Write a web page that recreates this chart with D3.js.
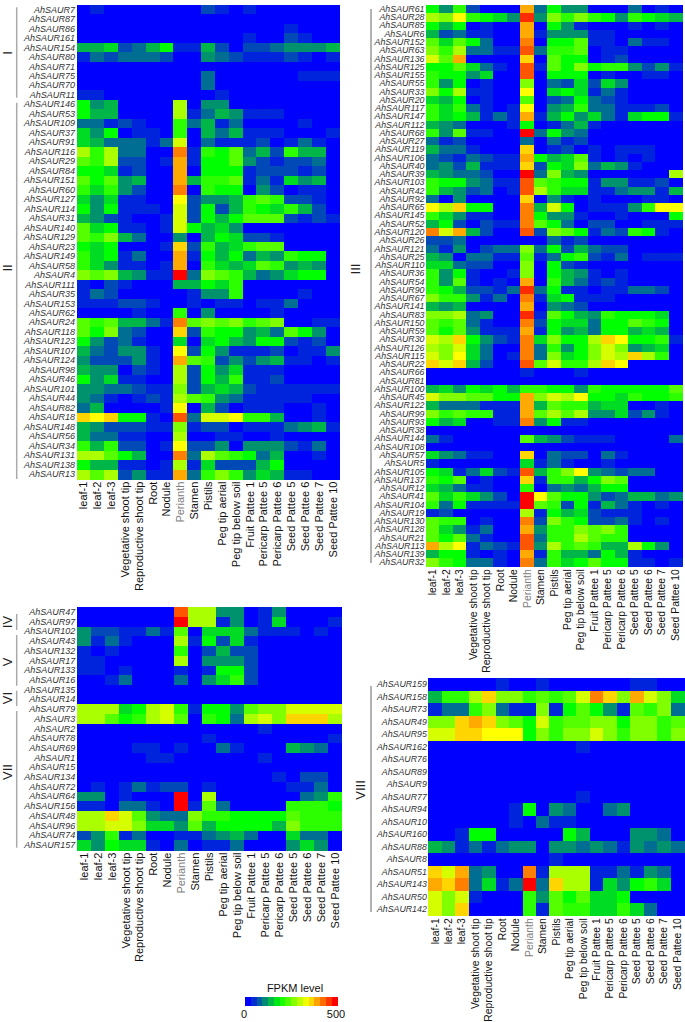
<!DOCTYPE html>
<html><head><meta charset="utf-8">
<script src="https://cdn.jsdelivr.net/npm/d3@7/dist/d3.min.js"></script>
<style>html,body{margin:0;padding:0;background:#fff}svg{display:block}text{font-family:"Liberation Sans",Arial,sans-serif}</style>
</head><body><svg id="c" width="685" height="1022"></svg>
<script>
const tissues=["leaf-1","leaf-2","leaf-3","Vegetative shoot tip","Reproductive shoot tip","Root","Nodule","Perianth","Stamen","Pistils","Peg tip aerial","Peg tip below soil","Fruit Pattee 1","Pericarp Pattee 5","Pericarp Pattee 6","Seed Pattee 5","Seed Pattee 6","Seed Pattee 7","Seed Pattee 10"];
const fpkmBinWidth=25;
const legendTicks=["0","500"];
const legendTitle="FPKM level";

const genesA=[7,87,86,161,154,80,71,75,70,11,146,53,109,37,91,116,29,84,151,60,127,114,31,140,129,23,149,58,4,111,35,153,62,24,118,123,107,124,98,46,101,44,82,18,148,56,34,131,138,13];
const binsA=[
[0,1,0,0,0,0,0,0,0,2,1,0,1,0,0,0,0,0,0],
[0,0,0,0,0,0,0,0,0,0,0,0,0,0,0,0,0,0,0],
[0,0,0,0,0,0,0,0,0,0,0,0,0,0,0,1,0,0,0],
[0,0,0,0,0,0,0,0,0,0,0,0,1,0,0,2,1,0,0],
[5,5,6,2,3,5,7,1,1,5,2,0,2,2,3,4,4,4,5],
[1,3,2,3,3,3,2,0,0,4,3,2,1,1,1,2,1,0,1],
[0,0,0,0,0,0,0,0,0,0,0,0,0,0,0,0,0,0,0],
[0,0,0,0,0,0,0,0,0,3,0,0,0,0,0,0,1,1,1],
[0,0,0,0,0,0,0,0,0,3,0,0,0,0,0,0,0,0,0],
[1,1,0,0,0,0,0,0,0,0,1,0,0,0,0,0,0,0,0],
[7,4,5,0,0,0,0,11,0,4,4,0,0,0,0,0,0,0,0],
[7,5,5,0,0,0,0,11,1,3,5,4,1,1,1,0,0,0,0],
[3,3,1,2,1,0,0,8,3,5,1,3,0,0,0,0,1,0,0],
[6,4,7,0,1,1,0,8,0,5,3,5,1,1,1,0,0,0,1],
[6,5,3,3,3,1,3,12,0,3,1,1,1,2,0,1,3,1,0],
[11,8,11,3,3,0,0,16,1,8,7,9,3,5,2,8,5,5,0],
[9,8,11,2,2,0,1,15,1,7,7,9,4,2,1,2,2,3,0],
[7,7,6,1,2,0,0,15,0,7,7,7,1,2,2,2,1,2,0],
[9,7,9,4,5,0,0,15,5,8,8,9,1,3,1,6,4,5,0],
[8,6,8,4,2,0,0,16,0,8,7,7,0,4,2,0,1,1,0],
[6,4,6,1,1,0,0,13,2,4,4,5,8,9,8,2,2,1,0],
[7,4,7,1,1,1,0,12,2,7,2,5,8,7,6,8,5,2,0],
[5,4,2,1,0,0,1,12,2,7,5,7,9,9,9,2,1,2,1],
[9,6,7,1,1,0,1,12,7,5,6,4,0,0,0,0,0,0,0],
[9,8,10,5,3,0,0,4,0,5,7,6,2,2,1,0,0,0,0],
[7,6,7,0,0,0,1,14,2,8,5,6,8,9,9,0,0,0,0],
[8,6,7,1,3,0,0,15,1,7,5,7,3,5,4,8,7,7,0],
[8,6,4,1,1,0,1,15,0,8,6,5,6,9,8,4,5,4,0],
[10,9,10,5,4,1,1,19,3,10,9,8,5,3,4,6,7,7,0],
[1,0,2,1,0,0,0,5,5,7,6,8,0,0,0,0,0,0,0],
[1,3,2,0,0,0,0,0,1,4,4,8,0,0,0,0,1,0,0],
[1,1,1,2,2,1,0,0,1,0,1,1,0,1,1,3,0,0,0],
[0,0,0,0,1,0,0,8,0,4,0,0,0,0,1,0,0,0,0],
[9,8,9,5,5,3,1,16,9,10,9,10,8,9,10,0,0,1,1],
[9,7,10,3,2,0,0,14,2,8,7,7,4,5,3,9,7,4,0],
[7,4,2,3,1,0,0,6,0,6,7,5,4,7,7,2,1,2,0],
[5,3,2,4,4,1,0,13,2,7,4,1,1,1,2,0,1,1,4],
[4,2,2,2,4,1,0,15,9,8,2,4,2,4,5,1,1,0,1],
[5,4,4,0,2,1,0,11,2,7,4,6,1,1,1,0,0,0,0],
[7,4,6,1,1,0,0,11,2,7,5,8,1,1,2,0,0,0,0],
[4,4,3,3,2,1,1,10,2,5,6,5,2,1,1,1,1,1,1],
[4,3,1,0,1,2,1,11,9,8,4,3,1,1,1,1,1,0,0],
[3,5,0,0,0,0,1,13,0,5,2,0,1,1,1,0,0,1,0],
[14,13,14,7,7,1,0,17,3,12,12,13,8,8,5,0,0,1,0],
[5,4,2,2,2,1,1,10,1,2,2,0,1,1,1,3,4,5,1],
[5,3,3,1,1,0,0,11,0,0,1,1,0,0,1,0,0,0,0],
[8,5,8,2,2,0,1,13,2,2,4,0,4,4,4,2,1,3,0],
[11,11,9,7,5,0,0,16,3,11,9,8,7,3,5,0,0,1,0],
[7,5,5,1,1,0,1,11,1,6,2,2,2,5,7,0,0,0,0],
[11,9,11,2,4,1,1,15,3,8,10,8,4,6,5,1,1,0,0]];

const genesB=[61,28,85,6,152,63,136,125,155,55,33,20,117,147,112,68,27,119,106,40,39,103,42,92,65,145,52,120,26,121,25,110,36,54,90,67,141,83,150,59,30,126,115,22,66,81,100,45,122,99,93,38,144,108,57,5,105,137,12,41,104,19,130,128,21,113,139,32];
const binsB=[
[7,4,8,2,0,0,0,15,3,7,4,4,0,0,0,3,0,1,0],
[11,10,13,8,7,6,4,18,4,10,8,10,8,7,4,8,7,6,5],
[7,5,7,0,1,0,0,15,0,7,4,1,0,0,0,1,0,1,0],
[5,2,3,1,1,0,0,15,1,4,4,4,1,1,0,0,0,0,0],
[9,6,9,7,3,0,0,16,0,7,7,9,1,1,0,3,1,1,0],
[10,8,11,3,3,1,1,17,3,8,8,9,0,1,1,0,0,0,0],
[12,9,15,0,0,0,0,14,0,9,7,7,0,1,2,0,0,0,0],
[7,7,9,6,3,1,0,17,1,9,7,10,7,8,8,4,2,4,1],
[8,7,7,4,6,0,0,17,0,7,7,7,0,1,0,0,1,1,0],
[8,4,7,0,1,0,0,10,0,3,2,6,2,6,4,0,0,0,0],
[10,7,11,1,1,0,0,13,0,6,7,6,1,3,1,0,0,0,0],
[6,5,7,0,1,0,0,9,0,2,3,7,3,2,1,0,0,0,0],
[8,6,8,3,1,0,1,13,0,4,5,8,3,3,1,1,1,2,0],
[8,6,7,5,1,3,1,15,1,5,7,4,6,3,1,6,7,7,1],
[5,4,3,0,0,0,1,7,0,1,3,5,1,0,0,0,0,0,0],
[8,4,9,1,1,0,0,19,3,7,4,3,0,0,0,0,0,0,0],
[3,1,2,0,0,0,0,3,0,3,1,2,0,0,0,0,0,0,0],
[5,3,3,1,0,0,0,14,0,1,2,0,1,0,1,1,1,0,0],
[3,2,1,3,2,1,1,15,7,5,6,9,1,0,1,0,1,0,0],
[3,4,2,5,1,1,1,14,2,7,6,10,3,5,4,1,0,0,0],
[5,4,3,3,2,0,0,19,3,10,5,4,0,0,0,0,0,0,11],
[8,7,7,4,3,1,1,17,9,8,7,7,1,4,4,1,1,2,0],
[8,5,4,2,3,0,1,17,11,8,6,6,1,1,3,4,4,1,5],
[3,0,4,0,0,0,0,14,0,4,1,0,1,0,0,0,1,1,0],
[13,11,14,7,7,0,0,16,5,12,7,0,1,1,1,4,8,13,13],
[8,6,4,1,1,0,0,16,7,4,4,1,0,0,1,0,0,0,7],
[5,7,2,0,2,1,1,16,9,7,3,0,2,2,0,0,1,1,1],
[16,12,15,5,2,0,0,17,2,10,9,7,1,3,2,8,7,1,0],
[2,2,3,0,0,0,0,0,0,3,1,2,0,0,0,0,0,0,0],
[3,1,4,0,2,3,3,10,3,7,2,5,3,2,2,0,0,0,0],
[5,4,0,3,3,1,1,9,1,3,7,8,2,1,3,0,1,1,1],
[6,6,3,2,2,0,0,10,0,7,2,1,0,0,0,0,0,0,0],
[8,4,7,1,0,0,1,10,0,7,5,4,1,0,1,0,0,0,0],
[8,4,9,1,0,1,0,15,0,8,5,3,1,2,1,0,0,0,0],
[8,7,5,2,2,1,3,18,3,7,1,1,0,1,1,3,3,2,0],
[10,8,8,4,1,3,0,16,1,6,7,1,1,1,0,0,0,0,0],
[5,4,5,0,0,0,0,15,0,4,3,2,0,0,0,0,0,0,0],
[10,10,11,3,4,0,0,18,1,9,7,5,4,8,7,7,7,6,0],
[9,8,9,3,1,0,0,16,2,7,6,6,3,7,7,9,8,7,0],
[9,7,9,4,1,1,1,15,1,7,4,5,3,7,7,5,6,5,0],
[12,11,14,7,4,2,1,16,6,10,7,7,11,14,13,7,7,8,1],
[11,10,12,6,3,0,0,16,3,8,4,7,10,12,10,4,5,6,0],
[12,10,13,6,3,0,1,16,3,10,6,7,10,12,11,14,11,8,0],
[14,12,14,5,2,0,0,17,9,12,8,8,11,14,13,0,0,0,0],
[0,0,0,0,0,0,0,1,0,0,0,1,0,0,0,0,0,0,0],
[0,0,0,0,0,0,0,0,0,0,0,0,0,0,0,0,0,0,0],
[5,6,4,7,6,7,5,8,8,7,7,4,8,7,7,7,7,7,9],
[12,10,10,9,9,7,7,15,10,12,11,13,7,7,6,8,7,7,8],
[5,3,3,3,1,1,1,15,5,9,8,8,5,6,6,0,0,1,0],
[10,8,9,8,8,1,1,15,9,11,9,11,4,4,6,2,4,1,0],
[7,5,6,0,0,1,1,16,4,7,1,1,0,0,0,0,0,0,0],
[0,0,0,0,0,0,0,0,0,0,0,0,0,0,0,0,0,0,0],
[3,1,0,0,0,0,0,9,5,4,2,1,1,1,0,0,0,0,3],
[0,0,0,0,0,0,0,0,0,0,0,0,0,0,0,0,0,0,0],
[6,4,3,1,1,0,0,14,0,3,2,2,0,3,1,0,0,0,0],
[1,0,0,0,0,0,0,6,1,3,1,0,0,1,0,0,0,0,0],
[7,6,1,3,6,2,1,17,5,8,10,13,4,3,2,3,3,0,0],
[8,7,9,0,1,0,0,14,1,8,8,5,7,10,9,0,0,0,0],
[6,5,3,1,1,0,0,8,0,3,4,3,5,7,7,0,0,0,0],
[9,6,8,6,4,2,0,19,13,9,7,7,4,2,3,5,5,3,4],
[8,3,7,1,1,1,1,19,9,8,2,7,1,5,3,1,0,1,0],
[1,2,0,0,0,0,0,11,1,7,5,6,2,1,1,1,0,0,0],
[9,8,8,0,1,0,0,16,2,10,8,7,2,2,3,1,0,1,0],
[9,6,4,1,3,0,0,15,4,8,8,10,9,10,8,0,0,0,0],
[9,7,9,3,1,0,0,17,3,8,8,11,9,8,8,0,0,0,0],
[15,11,13,1,3,2,1,17,4,11,8,9,8,5,5,11,7,4,0],
[5,7,7,1,0,1,0,15,1,8,5,5,3,7,5,1,0,0,0],
[10,8,7,3,3,1,0,16,3,8,6,7,9,7,7,1,1,0,1]];

const genesC=[47,97,102,43,132,17,133,16,135,14,79,3,2,78,69,1,15,134,72,64,156,48,96,74,157];
const binsC=[
[0,0,0,0,0,0,0,17,11,11,4,4,0,1,4,0,0,0,0],
[0,0,0,0,0,0,0,19,11,11,1,4,0,1,6,0,0,0,1],
[4,2,2,1,1,3,1,9,0,6,6,6,3,1,1,1,0,1,0],
[4,1,3,1,0,0,0,11,1,7,2,6,1,0,0,0,0,0,0],
[1,0,1,0,0,0,0,8,0,2,5,2,2,0,0,0,0,0,0],
[1,1,0,0,0,0,0,11,0,4,4,4,2,0,0,0,0,0,0],
[1,1,0,1,0,0,0,1,0,1,7,7,2,0,0,0,0,0,0],
[0,0,1,3,0,0,0,3,0,4,6,8,2,0,0,0,0,0,0],
[0,0,0,0,0,0,0,0,0,0,0,0,0,0,0,0,0,0,0],
[0,0,0,0,0,0,0,0,0,0,0,0,0,0,0,0,0,0,0],
[11,11,11,6,7,11,12,8,1,7,7,4,9,10,10,12,12,12,12],
[11,11,9,7,8,11,12,9,0,8,7,3,11,12,10,14,14,14,11],
[0,0,0,0,0,0,0,0,0,0,0,0,0,1,0,0,0,0,0],
[0,0,0,0,0,0,0,0,0,1,0,0,0,0,0,0,0,0,1],
[0,0,0,0,1,1,0,1,0,0,3,1,0,0,0,5,4,3,0],
[0,0,0,0,0,1,1,0,0,0,0,0,0,1,0,0,0,0,0],
[0,0,0,0,0,0,0,0,0,0,0,0,0,0,0,0,0,0,0],
[0,0,0,0,0,0,0,0,0,0,0,0,0,0,1,0,2,2,0],
[0,1,0,1,3,1,2,2,0,1,0,0,0,0,0,1,1,3,0],
[4,4,0,1,0,0,0,19,0,11,0,0,0,0,0,0,3,4,8],
[1,1,0,3,3,1,0,19,1,9,3,0,0,0,0,8,8,8,7],
[11,11,14,12,9,4,3,3,10,8,8,7,7,7,7,9,8,8,8],
[11,11,12,12,10,6,6,4,9,5,7,7,7,7,5,10,8,8,8],
[2,4,8,1,3,0,0,1,1,3,4,5,3,0,0,6,3,3,0],
[6,4,7,6,6,1,0,3,0,1,1,3,0,0,0,4,6,4,0]];

const genesD=[159,158,73,49,95,162,76,89,9,77,94,10,160,88,8,51,143,50,142];
const binsD=[
[0,0,0,0,0,1,0,0,1,0,0,0,0,0,0,1,1,0,0],
[5,8,8,11,14,10,10,8,9,8,9,12,16,14,10,15,12,10,6],
[1,3,3,8,10,3,1,1,10,1,7,9,7,4,1,9,8,10,3],
[10,10,14,15,14,10,9,7,12,8,9,9,10,10,7,10,10,8,9],
[12,12,14,14,13,13,13,7,10,8,10,10,12,10,8,10,10,8,10],
[0,0,0,0,0,0,0,0,0,0,0,1,0,0,0,0,0,0,0],
[0,0,0,0,0,0,0,0,0,0,0,0,0,0,0,0,0,0,0],
[0,0,0,0,0,0,0,0,0,0,0,0,0,0,0,0,0,0,0],
[0,0,0,0,0,0,0,0,0,0,0,0,0,0,0,0,0,0,0],
[0,0,0,0,0,0,0,0,0,0,0,1,0,0,0,0,0,0,0],
[0,0,0,0,0,0,1,7,0,4,3,0,0,3,4,0,0,0,0],
[0,0,0,0,0,0,1,0,3,1,1,0,0,0,0,0,0,0,0],
[0,0,1,7,7,0,0,0,0,0,7,5,0,0,0,4,4,3,0],
[5,4,1,3,1,3,4,4,0,4,4,3,4,3,1,4,3,4,3],
[0,0,0,0,0,0,0,0,0,1,0,0,0,0,0,0,0,0,0],
[14,12,15,3,4,0,0,16,1,11,11,11,1,1,3,1,4,3,0],
[15,14,16,3,6,1,3,19,3,14,11,11,1,6,4,7,8,6,0],
[12,10,12,1,0,0,0,8,4,9,7,9,6,6,7,0,0,0,0],
[12,10,14,0,0,0,0,8,1,9,8,8,6,6,8,6,3,0,0]];

// colour scale on FPKM: blue → green → yellow → red
const color=d3.scaleLinear().domain([0,175,325,475]).range(["#0000ff","#00ff00","#ffff00","#ff0000"]).clamp(true);

const panels=[
 {genes:genesA,bins:binsA,x:[76.5,339.5],y:[5,479],gs:9,ts:11},
 {genes:genesB,bins:binsB,x:[426,682],y:[5,566.7],gs:8.8,ts:10.4},
 {genes:genesC,bins:binsC,x:[76.7,341.7],y:[607.3,850],gs:9,ts:11},
 {genes:genesD,bins:binsD,x:[428.3,684],y:[678.3,915.7],gs:8.8,ts:10.4}
];
const brackets=[
 {x:16.7,y:[7.3,97.7],c:"#aaa",w:1.5},{x:16.7,y:[102.7,479],c:"#aaa",w:1.5},
 {x:371,y:[9,563],c:"#666",w:1},{x:371,y:[686,912],c:"#666",w:1},
 {x:16.7,y:[614,630],c:"#aaa",w:1.5},{x:16.7,y:[635,685.7],c:"#aaa",w:1.5},
 {x:16.7,y:[690.7,706],c:"#aaa",w:1.5},{x:16.7,y:[711,847.7],c:"#aaa",w:1.5}
];
const groupLabels=[
 {t:"I",x:7.5,y:53,s:13},{t:"II",x:7.5,y:268,s:13},{t:"III",x:355,y:269,s:13},
 {t:"IV",x:7.5,y:622,s:13},{t:"V",x:7.5,y:662,s:13},{t:"VI",x:7.5,y:698,s:13},{t:"VII",x:7.5,y:772,s:13},
 {t:"VIII",x:360,y:790,s:13}
];

const svg=d3.select("#c");
panels.forEach(p=>{
  const names=p.genes.map(g=>"AhSAUR"+g);
  const x=d3.scaleBand().domain(tissues).range(p.x);
  const y=d3.scaleBand().domain(names).range(p.y);
  const g=svg.append("g");
  const cells=p.bins.flatMap((row,r)=>row.map((b,c)=>({gene:names[r],tissue:tissues[c],fpkm:b*fpkmBinWidth})));
  g.selectAll("rect").data(cells).join("rect")
    .attr("x",d=>x(d.tissue)).attr("y",d=>y(d.gene))
    .attr("width",x.bandwidth()+0.5).attr("height",y.bandwidth()+0.5)
    .attr("fill",d=>color(d.fpkm)).attr("shape-rendering","crispEdges");
  const ay=g.append("g").attr("transform",`translate(${p.x[0]},0)`)
    .call(d3.axisLeft(y).tickSize(0).tickPadding(1.5));
  ay.select(".domain").remove();
  ay.selectAll("text").attr("font-size",p.gs).attr("font-style","italic").attr("fill","#333").attr("font-family",null);
  const ax=g.append("g").attr("transform",`translate(0,${p.y[1]})`)
    .call(d3.axisBottom(x).tickSize(0).tickPadding(0));
  ax.select(".domain").remove();
  ax.selectAll("text").attr("font-size",p.ts).attr("font-family",null)
    .attr("fill",d=>d==="Perianth"?"#808080":"#111")
    .attr("text-anchor","end").attr("dy",null)
    .attr("dominant-baseline","central")
    .attr("transform","translate(0,2.6) rotate(-90)").attr("x",0).attr("y",0);
});
svg.append("g").selectAll("line").data(brackets).join("line")
  .attr("x1",d=>d.x).attr("x2",d=>d.x).attr("y1",d=>d.y[0]).attr("y2",d=>d.y[1])
  .attr("stroke",d=>d.c).attr("stroke-width",d=>d.w);
svg.append("g").selectAll("text").data(groupLabels).join("text")
  .attr("transform",d=>`translate(${d.x},${d.y}) rotate(-90)`)
  .attr("text-anchor","middle").attr("dominant-baseline","central")
  .attr("font-size",d=>d.s).attr("fill","#222").text(d=>d.t);

// legend
const legendSteps=d3.range(16);
const lx=d3.scaleBand().domain(legendSteps).range([245,337.5]);
svg.append("g").selectAll("rect").data(legendSteps).join("rect")
  .attr("x",d=>lx(d)).attr("y",997.3).attr("width",lx.bandwidth()+0.3).attr("height",9)
  .attr("fill",d=>color(d/15*475)).attr("shape-rendering","crispEdges");
svg.append("text").attr("x",295).attr("y",991.5).attr("text-anchor","middle").attr("font-size",11).attr("fill","#111").text(legendTitle);
svg.append("g").selectAll("text").data(legendTicks).join("text")
  .attr("x",(d,i)=>i?336:244).attr("y",1017.5).attr("text-anchor","middle").attr("font-size",11).attr("fill","#111").text(d=>d);
</script></body></html>
